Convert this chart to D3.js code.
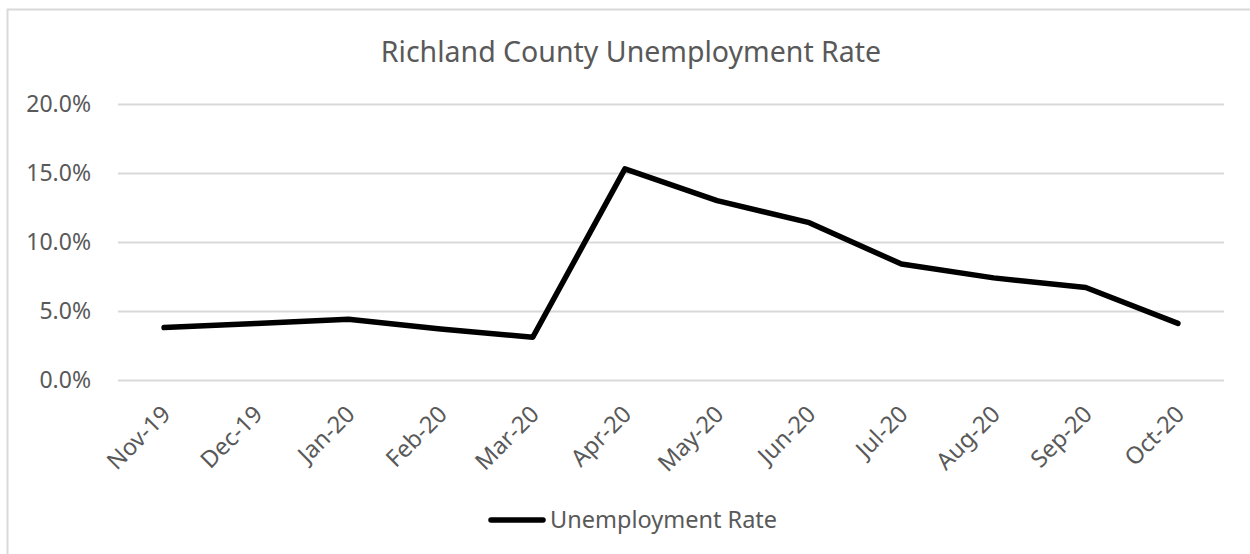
<!DOCTYPE html>
<html><head><meta charset="utf-8">
<script src="https://cdn.jsdelivr.net/npm/d3@7"></script>
<style>html,body{margin:0;padding:0;background:#fff;}svg{display:block;}</style>
</head><body>
<svg id="c" width="1250" height="554"></svg>
<script>
const categories = ["Nov-19","Dec-19","Jan-20","Feb-20","Mar-20","Apr-20","May-20","Jun-20","Jul-20","Aug-20","Sep-20","Oct-20"];
const unemploymentRate = [3.8, 4.1, 4.4, 3.7, 3.1, 15.3, 13.0, 11.4, 8.4, 7.4, 6.7, 4.1];
const yTicks = [0, 5, 10, 15, 20];
const seriesName = "Unemployment Rate";
const titleText = "Richland County Unemployment Rate";

const svg = d3.select("#c");
const font = "'Noto Sans', sans-serif";
const textColor = "#595959";
const gridColor = "#d9d9d9";

// chart border (only top/left visible)
svg.append("rect").attr("x", 7.5).attr("y", 9.5).attr("width", 1300).attr("height", 600)
  .attr("fill", "#fff").attr("stroke", gridColor).attr("stroke-width", 2);

const m = {left: 118, right: 1224, top: 104, bottom: 380};
const x = d3.scaleBand().domain(categories).range([m.left, m.right]);
const y = d3.scaleLinear().domain([0, 20]).range([m.bottom, m.top]);

// gridlines
const gy = svg.append("g").attr("class", "y-axis")
  .attr("transform", `translate(${m.left},0)`)
  .call(d3.axisLeft(y).tickValues(yTicks).tickSize(-(m.right - m.left)).tickPadding(27)
        .tickFormat(d => d.toFixed(1) + "%"));
gy.select(".domain").remove();
gy.selectAll(".tick line").attr("stroke", gridColor).attr("stroke-width", 2);
gy.selectAll(".tick text").attr("fill", textColor).attr("font-family", font).attr("font-size", 23);

// x axis labels
const gx = svg.append("g").attr("class", "x-axis")
  .attr("transform", `translate(0,${m.bottom})`)
  .call(d3.axisBottom(x).tickSize(0).tickPadding(0));
gx.select(".domain").remove();
gx.selectAll(".tick text")
  .attr("fill", textColor).attr("font-family", font).attr("font-size", 23.5)
  .attr("text-anchor", "end")
  .attr("dy", "0.35em")
  .attr("transform", "translate(2,30) rotate(-45)");

// line
const line = d3.line().x((d, i) => x(categories[i]) + x.bandwidth() / 2).y(d => y(d));
svg.append("path").datum(unemploymentRate)
  .attr("d", line).attr("fill", "none").attr("stroke", "#000")
  .attr("stroke-width", 5.5).attr("stroke-linejoin", "round").attr("stroke-linecap", "round");

// title
svg.append("text").attr("x", 631).attr("y", 62).attr("text-anchor", "middle")
  .attr("font-family", font).attr("font-size", 28.5).attr("fill", textColor).text(titleText);

// legend
const lg = svg.append("g");
lg.append("line").attr("x1", 491).attr("x2", 543).attr("y1", 520).attr("y2", 520)
  .attr("stroke", "#000").attr("stroke-width", 5.5).attr("stroke-linecap", "round");
lg.append("text").attr("x", 550).attr("y", 520).attr("dy", "0.35em")
  .attr("font-family", font).attr("font-size", 23.5).attr("fill", textColor).text(seriesName);
</script>
</body></html>
